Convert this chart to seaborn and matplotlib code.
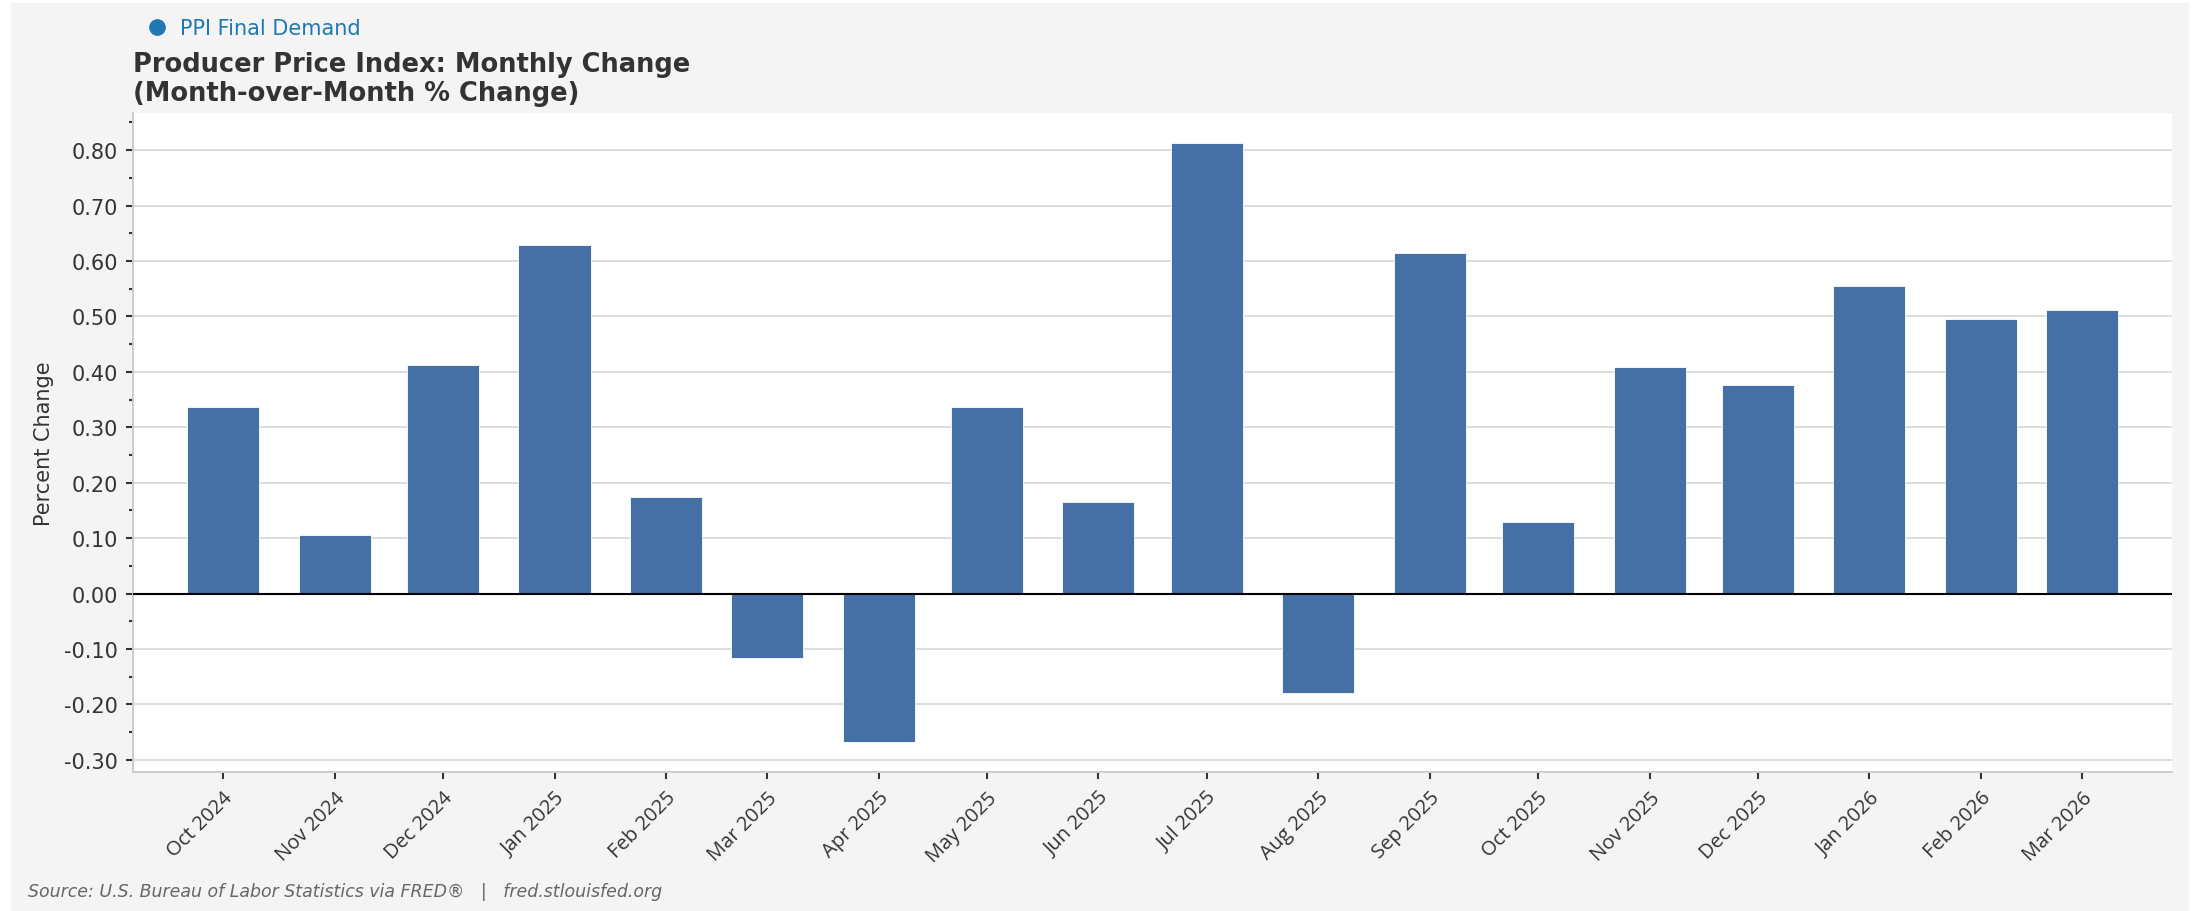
import pandas as pd
import seaborn as sns
import matplotlib.pyplot as plt
import matplotlib.dates as mdates
from matplotlib.lines import Line2D
from matplotlib.patches import Rectangle
from matplotlib.ticker import MultipleLocator, FormatStrFormatter

# monthly PPI final demand, month-over-month % change
months = [
    "2024-10-01", "2024-11-01", "2024-12-01", "2025-01-01", "2025-02-01", "2025-03-01",
    "2025-04-01", "2025-05-01", "2025-06-01", "2025-07-01", "2025-08-01", "2025-09-01",
    "2025-10-01", "2025-11-01", "2025-12-01", "2026-01-01", "2026-02-01", "2026-03-01",
]
ppi_change = [
    0.337, 0.106, 0.413, 0.628, 0.175, -0.116,
    -0.268, 0.337, 0.165, 0.813, -0.180, 0.615,
    0.129, 0.408, 0.377, 0.554, 0.496, 0.511,
]
series_name = "PPI Final Demand"

df = pd.DataFrame({"date": pd.to_datetime(months), "change": ppi_change})
df["x"] = mdates.date2num(df["date"])

sns.set_theme(style="white")
plt.rcParams["font.family"] = ["DejaVu Sans"]

fig = plt.figure(figsize=(21.99, 9.12), dpi=100, facecolor="white")
# light grey panel behind everything
fig.add_artist(Rectangle((11 / 2199, 0), (2189 - 11) / 2199, 1 - 4 / 912,
                         transform=fig.transFigure, facecolor="#f4f4f4",
                         edgecolor="none", zorder=-10))

ax = fig.add_axes([0.0605, 0.1524, 0.9272, 0.7226])
ax.set_facecolor("white")

# bars on a real date scale: 20 days wide (min spacing is 28 days)
sns.barplot(data=df, x="x", y="change", native_scale=True, width=20 / 28,
            color="#4470a6", saturation=1, edgecolor="white", linewidth=0.6,
            errorbar=None, ax=ax)

ax.axhline(0, color="black", linewidth=1.5, zorder=3)

# x axis: one tick per month
ax.set_xlim(df["x"].min() - 25, df["x"].max() + 25)
ax.set_xticks(df["x"])
ax.set_xticklabels(df["date"].dt.strftime("%b %Y"), rotation=45, ha="right",
                   rotation_mode="anchor", fontfamily="Open Sans", fontsize=14.5,
                   color="#333333")
ax.minorticks_off()
ax.set_xlabel("")

# y axis
ax.yaxis.set_major_locator(MultipleLocator(0.1))
ax.yaxis.set_minor_locator(MultipleLocator(0.05))
ax.yaxis.set_major_formatter(FormatStrFormatter("%.2f"))
ax.set_ylabel("Percent Change", fontsize=15, color="#333333")
ax.yaxis.set_label_coords(-0.039, 0.5)

ax.tick_params(axis="y", which="major", left=True, length=5, width=1.5,
               color="#333333", labelsize=15, labelcolor="#333333", pad=6)
ax.tick_params(axis="y", which="minor", left=True, length=3, width=1.5,
               color="#333333")
ax.tick_params(axis="x", which="major", bottom=True, length=5, width=1.5,
               color="#333333", pad=6)

ax.yaxis.grid(True, color="#dddddd", linewidth=1.4)
ax.xaxis.grid(False)
ax.set_axisbelow(True)

for side in ["top", "right"]:
    ax.spines[side].set_visible(False)
for side in ["left", "bottom"]:
    ax.spines[side].set_color("#cccccc")
    ax.spines[side].set_linewidth(1.4)

# title and legend above the axes
fig.text(0.0605, 0.943, "Producer Price Index: Monthly Change\n(Month-over-Month % Change)",
         fontsize=18.5, fontweight="bold", color="#333333", ha="left", va="top",
         linespacing=1.15)

handle = Line2D([], [], marker="o", linestyle="none", color="#1f77b4", markersize=11)
fig.legend(handles=[handle], labels=[series_name], loc="center left",
           bbox_to_anchor=(0.0676, 0.9677), bbox_transform=fig.transFigure,
           frameon=False, fontsize=15, labelcolor="#1f77b4", handlelength=0.8,
           handletextpad=0.71, borderpad=0, borderaxespad=0)

fig.text(0.0127, 0.0219,
         "Source: U.S. Bureau of Labor Statistics via FRED\u00ae   |   fred.stlouisfed.org",
         fontsize=12.5, style="italic", color="#666666", ha="left", va="center")

fig.savefig("out.png", dpi=100, facecolor=fig.get_facecolor())
